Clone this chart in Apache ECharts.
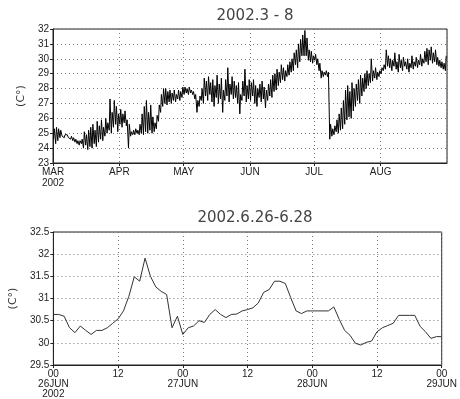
<!DOCTYPE html>
<html>
<head>
<meta charset="utf-8">
<script src="https://cdn.jsdelivr.net/npm/echarts@6/dist/echarts.min.js"></script>
<style>
  html, body { margin: 0; padding: 0; background: #fff; }
  #main { width: 460px; height: 399px; }
</style>
</head>
<body>
<div id="main"></div>
<script>
// daily low / high temperatures (C), Mar - Aug 2002
var marLow  = [24.6,24.3,24.5,24.7,24.8,24.7,24.8,24.7,24.6,24.5,24.4,24.3,24.2,24.3,24.0,24.2,23.9,24.1,24.0,24.3,24.1,24.4,24.6,24.5,24.8,25.0,25.2,25.0,25.4,25.6,25.1];
var marHigh = [25.3,25.4,25.3,25.2,24.9,24.9,24.9,24.8,24.8,24.7,24.6,24.5,24.5,24.6,25.1,24.9,25.2,25.4,25.6,25.2,25.8,25.5,25.9,25.4,26.0,25.7,27.3,26.4,27.2,26.8,26.3];
var aprLow  = [25.6,25.4,25.7,25.5,24.0,24.8,24.9,24.9,25.0,24.9,25.0,24.9,25.1,25.0,25.2,25.0,25.1,25.3,25.8,26.4,26.8,27.0,26.9,27.1,27.0,27.2,27.1,27.3,27.2,27.4];
var aprHigh = [26.6,26.3,26.5,25.9,25.6,25.1,25.2,25.3,25.2,25.6,26.3,26.8,27.2,26.4,26.9,26.1,25.7,26.2,26.9,27.6,28.0,28.0,27.8,27.9,27.7,27.9,27.6,27.9,27.8,28.1];
var mayLow  = [27.6,27.7,27.6,27.7,27.6,27.3,26.4,26.8,27.2,27.0,27.5,27.2,27.6,27.1,26.8,27.4,27.0,27.3,26.4,27.2,27.5,27.1,27.6,27.3,27.4,27.0,26.3,27.2,27.5,27.1,27.3];
var mayHigh = [28.1,28.0,28.1,27.9,27.8,27.6,27.2,27.5,28.0,28.7,28.5,28.8,28.4,28.6,28.2,28.9,28.3,28.7,27.9,28.6,29.4,28.3,28.8,28.5,28.2,28.4,27.6,28.5,29.3,28.2,28.6];
var junLow  = [27.2,27.5,27.0,26.8,27.4,27.1,27.3,26.7,27.2,27.5,27.4,27.8,27.9,28.2,28.4,28.6,28.5,28.8,28.9,29.1,29.2,29.6,29.4,29.8,30.2,30.2,30.2,29.9,29.8,29.7];
var junHigh = [28.4,28.6,28.2,28.0,28.3,28.5,28.1,27.9,28.3,28.6,28.9,29.0,29.3,29.1,29.6,29.4,29.2,29.6,29.8,30.0,30.4,30.6,31.0,31.3,31.6,31.9,31.4,30.6,30.5,30.2];
var julLow  = [29.9,29.6,29.2,28.7,28.8,28.9,28.8,24.6,24.8,24.9,25.1,25.0,25.2,25.3,25.6,25.9,26.1,26.0,26.5,26.8,27.2,27.0,27.5,27.8,28.0,28.2,28.4,28.5,28.7,28.6,28.8];
var julHigh = [30.3,30.0,29.7,29.2,29.1,29.2,29.1,25.6,25.3,25.5,25.9,26.3,26.7,27.2,27.9,28.2,27.8,28.4,28.0,28.3,28.6,28.9,28.7,29.0,29.2,29.0,30.0,29.2,29.4,29.1,29.2];
var augLow  = [29.0,29.2,29.3,29.5,29.4,29.2,29.5,29.3,29.1,29.4,29.2,29.5,29.3,29.1,29.4,29.3,29.5,29.4,29.6,29.5,29.7,29.8,29.6,29.9,29.7,29.8,29.6,29.5,29.4,29.3,29.2];
var augHigh = [29.4,29.6,30.6,30.2,30.0,29.9,30.4,29.8,30.3,29.9,30.1,29.8,30.0,29.7,30.2,29.8,30.1,29.9,30.3,30.0,30.5,30.7,30.6,30.8,30.4,30.6,30.1,29.9,29.8,29.7,30.2];

// hourly temperatures, 2002-06-26 00h .. 06-29 00h
var hourlyTemp = [30.64,30.64,30.6,30.34,30.23,30.38,30.28,30.19,30.28,30.28,
                  30.34,30.44,30.54,30.72,31.05,31.49,31.39,31.91,31.5,31.26,
                  31.16,31.09,30.34,30.6,30.19,30.34,30.38,30.5,30.46,30.64,
                  30.75,30.64,30.57,30.64,30.65,30.72,30.75,30.79,30.9,31.14,
                  31.2,31.39,31.39,31.34,31.02,30.72,30.66,30.72,30.72,30.72,
                  30.72,30.72,30.81,30.53,30.28,30.17,29.99,29.95,30.01,30.04,
                  30.25,30.34,30.39,30.44,30.62,30.62,30.62,30.62,30.37,30.25,
                  30.1,30.14,30.14];

var monthNames = ['JAN','FEB','MAR','APR','MAY','JUN','JUL','AUG','SEP','OCT','NOV','DEC'];
var titles = ['2002.3 - 8', '2002.6.26-6.28'];

var dailyLow = marLow.concat(aprLow, mayLow, junLow, julLow, augLow);
var dailyHigh = marHigh.concat(aprHigh, mayHigh, junHigh, julHigh, augHigh);

var seasonData = [];
for (var d = 0; d < dailyLow.length; d++) {
    seasonData.push([new Date(2002, 2, 1 + d, 6).getTime(), dailyLow[d]]);
    seasonData.push([new Date(2002, 2, 1 + d, 15).getTime(), dailyHigh[d]]);
}
var hourData = [];
for (var h = 0; h < hourlyTemp.length; h++) {
    hourData.push([h, hourlyTemp[h]]);
}

var labelFont = { fontFamily: 'Liberation Sans', fontSize: 10, color: '#222' };
var dotted = { show: true, lineStyle: { color: '#777', type: [1, 3], width: 1 } };
var titleFont = { fontFamily: 'DejaVu Sans', fontSize: 15, fontWeight: 'normal', color: '#444' };

var chart = echarts.init(document.getElementById('main'));
var option = {
    animation: false,
    backgroundColor: '#fff',
    title: [
        { text: titles[0], left: 250, top: 4, textAlign: 'center', textStyle: titleFont },
        { text: titles[1], left: 250, top: 206, textAlign: 'center', textStyle: titleFont }
    ],
    grid: [
        { left: 53, right: 13, top: 29, height: 134, show: true, borderColor: '#222', borderWidth: 1 },
        { left: 53, right: 13, top: 232, height: 134, show: true, borderColor: '#222', borderWidth: 1 }
    ],
    xAxis: [
        {
            gridIndex: 0, type: 'time',
            min: new Date(2002, 2, 1).getTime(), max: new Date(2002, 8, 1).getTime(),
            splitNumber: 6,
            axisLine: { lineStyle: { color: '#222' } },
            axisTick: { length: 3, lineStyle: { color: '#222' } },
            splitLine: dotted,
            axisLabel: Object.assign({
                margin: 4, lineHeight: 11, showMaxLabel: false, hideOverlap: false,
                formatter: function (v) {
                    var dt = new Date(v);
                    if (dt.getDate() !== 1 || dt.getMonth() > 7) return '';
                    return monthNames[dt.getMonth()] + (dt.getMonth() === 2 ? '\n2002' : '');
                }
            }, labelFont)
        },
        {
            gridIndex: 1, type: 'value', min: 0, max: 72, interval: 12,
            axisLine: { lineStyle: { color: '#222' } },
            axisTick: { length: 3, lineStyle: { color: '#222' } },
            splitLine: dotted,
            axisLabel: Object.assign({
                margin: 4, lineHeight: 10, showMaxLabel: true,
                formatter: function (v) {
                    if (v % 24 !== 0) return '12';
                    return '00\n' + (26 + v / 24) + 'JUN' + (v === 0 ? '\n2002' : '');
                }
            }, labelFont)
        }
    ],
    yAxis: [
        {
            gridIndex: 0, type: 'value', min: 23, max: 32, interval: 1,
            name: '(C°)', nameLocation: 'middle', nameGap: 24,
            nameTextStyle: { fontFamily: 'DejaVu Sans', fontSize: 11, color: '#333' },
            axisLine: { show: true, lineStyle: { color: '#222' } },
            axisTick: { show: true, length: 3, lineStyle: { color: '#222' } },
            splitLine: dotted,
            axisLabel: Object.assign({ margin: 4 }, labelFont)
        },
        {
            gridIndex: 1, type: 'value', min: 29.5, max: 32.5, interval: 0.5,
            name: '(C°)', nameLocation: 'middle', nameGap: 26,
            nameTextStyle: { fontFamily: 'DejaVu Sans', fontSize: 11, color: '#333' },
            axisLine: { show: true, lineStyle: { color: '#222' } },
            axisTick: { show: true, length: 3, lineStyle: { color: '#222' } },
            splitLine: dotted,
            axisLabel: Object.assign({ margin: 4 }, labelFont)
        }
    ],
    series: [
        {
            type: 'line', xAxisIndex: 0, yAxisIndex: 0, data: seasonData,
            showSymbol: false, lineStyle: { color: '#000', width: 1 }
        },
        {
            type: 'line', xAxisIndex: 1, yAxisIndex: 1, data: hourData,
            showSymbol: false, lineStyle: { color: '#333', width: 1 }
        }
    ]
};
chart.setOption(option);
</script>
</body>
</html>
